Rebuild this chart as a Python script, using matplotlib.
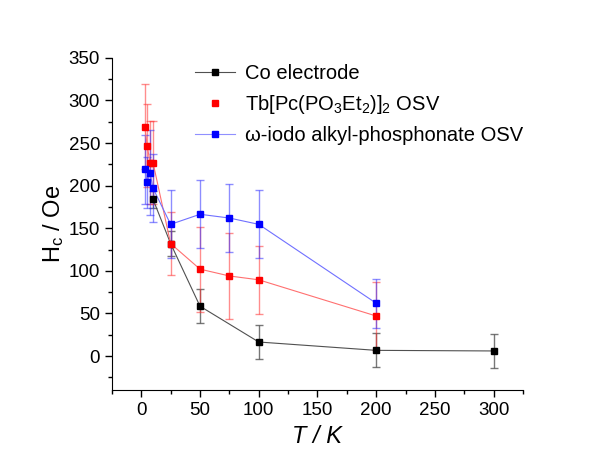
import numpy as np
import matplotlib.pyplot as plt
from matplotlib.ticker import MultipleLocator
from matplotlib.lines import Line2D

plt.rcParams['font.family'] = ['Liberation Sans', 'DejaVu Sans']
plt.rcParams['mathtext.fontset'] = 'custom'
plt.rcParams['mathtext.rm'] = 'Liberation Sans'
plt.rcParams['mathtext.it'] = 'Liberation Sans:italic'

# Co electrode
co_T = [10, 25, 50, 100, 200, 300]
co_H = [184, 132, 58.5, 16.5, 6.7, 6]
co_err = [10, 15, 20, 20, 20, 20]

# Tb[Pc(PO3Et2)]2 OSV
tb_T = [3, 5, 7.5, 10, 25, 50, 75, 100, 200]
tb_H = [269, 247, 227, 227, 132, 102, 94, 89.5, 47]
tb_err = [50, 49, 49, 49, 37, 50, 50, 40, 40]

# omega-iodo alkyl-phosphonate OSV
om_T = [3, 5, 7.5, 10, 25, 50, 75, 100, 200]
om_H = [219, 204, 215, 197, 154.6, 166.4, 162, 154.6, 62]
om_err = [40, 30, 50, 40, 40, 40, 40, 40, 29]

fig = plt.figure(figsize=(5.89, 4.59), dpi=100)
ax = fig.add_axes([0.190, 0.150, 0.698, 0.724])

# error bars (light, under the lines)
ax.errorbar(co_T, co_H, yerr=co_err, fmt='none', ecolor='#555555', elinewidth=1.0,
            capsize=3, capthick=1.0, alpha=0.8, zorder=1)
ax.errorbar(tb_T, tb_H, yerr=tb_err, fmt='none', ecolor='#ff3030', elinewidth=1.0,
            capsize=3, capthick=1.0, alpha=0.55, zorder=1)
ax.errorbar(om_T, om_H, yerr=om_err, fmt='none', ecolor='#3030ff', elinewidth=1.0,
            capsize=3, capthick=1.0, alpha=0.55, zorder=1)

# lines + markers
ms = 4.8
ax.plot(co_T, co_H, color='#505050', lw=0.8, zorder=2)
ax.plot(co_T, co_H, ls='none', marker='s', ms=ms, color='black', zorder=3)
ax.plot(tb_T, tb_H, color='#ff7070', lw=0.8, zorder=2)
ax.plot(tb_T, tb_H, ls='none', marker='s', ms=ms, color='red', zorder=4)
ax.plot(om_T, om_H, color='#7070ff', lw=0.8, zorder=2)
ax.plot(om_T, om_H, ls='none', marker='s', ms=ms, color='blue', zorder=5)

# legend
handles = [
    Line2D([], [], color='#505050', lw=0.8, marker='s', ms=4.5, mfc='black', mec='black'),
    Line2D([], [], color='none', lw=0.8, marker='s', ms=4.5, mfc='red', mec='red'),
    Line2D([], [], color='#9090ff', lw=0.8, marker='s', ms=4.5, mfc='blue', mec='blue'),
]
labels = ['Co electrode', r'Tb[Pc(PO$_3$Et$_2$)]$_2$ OSV',
          '\u03c9-iodo alkyl-phosphonate OSV']
ax.legend(handles, labels, loc='upper left', bbox_to_anchor=(0.158, 1.035),
          frameon=False, fontsize=14.5, handlelength=2.0, handletextpad=0.5,
          labelspacing=0.5)

ax.set_xlim(-25, 325)
ax.set_ylim(-40, 350)
ax.xaxis.set_major_locator(MultipleLocator(50))
ax.xaxis.set_minor_locator(MultipleLocator(25))
ax.yaxis.set_major_locator(MultipleLocator(50))
ax.yaxis.set_minor_locator(MultipleLocator(25))
ax.tick_params(which='major', direction='out', length=5, width=1, labelsize=13.5)
ax.tick_params(which='minor', direction='out', length=3, width=1)

ax.spines['top'].set_visible(False)
ax.spines['right'].set_visible(False)

ax.set_xlabel('T / K', fontsize=17, style='italic')
ax.set_ylabel(r'H$_\mathregular{c}$ / Oe', fontsize=17, labelpad=2)

fig.savefig('out.png', dpi=100)
